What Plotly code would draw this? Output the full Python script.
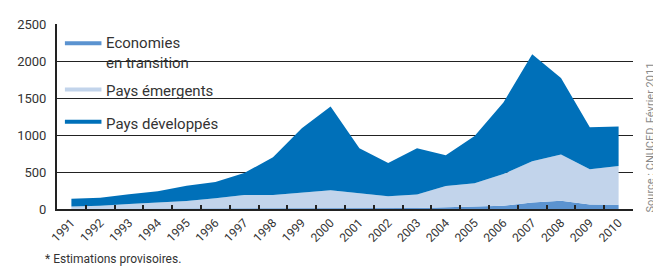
import plotly.graph_objects as go

years = [str(y) for y in range(1991, 2011)]
transition = [3, 4, 5, 5, 6, 6, 8, 6, 5, 7, 8, 10, 15, 25, 30, 45, 88, 110, 62, 58]
emergents = [32, 41, 63, 83, 102, 139, 182, 184, 220, 245, 204, 163, 180, 287, 317, 427, 557, 626, 475, 522]
developpes = [105, 107, 132, 152, 207, 220, 295, 510, 865, 1133, 608, 447, 625, 413, 638, 968, 1445, 1034, 568, 535]
y_ticks = [0, 500, 1000, 1500, 2000, 2500]

series_names = ["Economies<br>en transition", "Pays émergents", "Pays développés"]
series_colors = ["#5b93d0", "#c2d4eb", "#0070b9"]

# The page body has an 8px margin; size the figure so it fits the 661x267 window.
OFF = 8
W, H = 661 - OFF, 267 - OFF
PLOT_X0, PLOT_X1, PLOT_Y0, PLOT_Y1 = 50, 633, 17, 209  # page pixels
L = PLOT_X0 - OFF
T = PLOT_Y0 - OFF
R = W - (PLOT_X1 - OFF)
B = H - (PLOT_Y1 - OFF)
PW, PH = PLOT_X1 - PLOT_X0, PLOT_Y1 - PLOT_Y0

def px(x):
    return (x - PLOT_X0) / PW

def py(y):
    return (PLOT_Y1 - y) / PH

fig = go.Figure()
for name, vals, col in [(series_names[0], transition, series_colors[0]),
                        (series_names[1], emergents, series_colors[1]),
                        (series_names[2], developpes, series_colors[2])]:
    fig.add_trace(go.Scatter(
        x=years, y=vals, name=name, stackgroup="one", mode="lines",
        line=dict(width=0, color=col), fillcolor=col, showlegend=False,
        hoverinfo="x+y+name"))

shapes = [
    dict(type="rect", xref="paper", yref="paper", x0=px(50), x1=px(230),
         y0=py(140), y1=py(20), fillcolor="white", line=dict(width=0), layer="between"),
]
legend_rows = [(37, 47.5, series_names[0], series_colors[0]),
               (85, 86.7, series_names[1], series_colors[1]),
               (118.5, 120.7, series_names[2], series_colors[2])]
annotations = []
for ly, ty, name, col in legend_rows:
    shapes.append(dict(type="line", xref="paper", yref="paper", x0=px(58), x1=px(95),
                       y0=py(ly), y1=py(ly), line=dict(color=col, width=4), layer="above"))
    annotations.append(dict(xref="paper", yref="paper", x=px(98), y=py(ty), xanchor="left",
                            yanchor="middle", text=name, showarrow=False, align="left",
                            font=dict(size=15, color="#333333", family="Roboto")))

annotations.append(dict(xref="paper", yref="paper", x=px(651), y=py(135), textangle=-90,
                        text="Source : CNUCED, Février 2011", showarrow=False,
                        xanchor="center", yanchor="middle",
                        font=dict(size=11, color="#8a8a8a", family="Roboto")))
annotations.append(dict(xref="paper", yref="paper", x=px(36), y=py(260.5), xanchor="left",
                        yanchor="middle", text="* Estimations provisoires.", showarrow=False,
                        font=dict(size=12, color="#333333", family="Roboto")))

fig.update_layout(
    width=W, height=H, autosize=False,
    margin=dict(l=L, r=R, t=T, b=B),
    paper_bgcolor="white", plot_bgcolor="white",
    font=dict(family="Roboto", color="#333333"),
    shapes=shapes, annotations=annotations, showlegend=False,
    xaxis=dict(type="category", range=[-0.5, 19.5], tickson="boundaries",
               ticks="inside", ticklen=4, tickwidth=1.5, tickcolor="#222222",
               showline=True, linecolor="#222222", linewidth=2,
               showgrid=False, tickangle=-45, tickfont=dict(size=12, color="#333333")),
    yaxis=dict(range=[0, 2500], tickvals=y_ticks, ticktext=[str(v) for v in y_ticks],
               showgrid=True, gridcolor="#222222", gridwidth=1.3,
               showline=True, linecolor="#222222", linewidth=2, zeroline=False,
               ticks="", ticklabelstandoff=6, tickfont=dict(size=13, color="#333333")),
)

fig.write_html("out.html")
